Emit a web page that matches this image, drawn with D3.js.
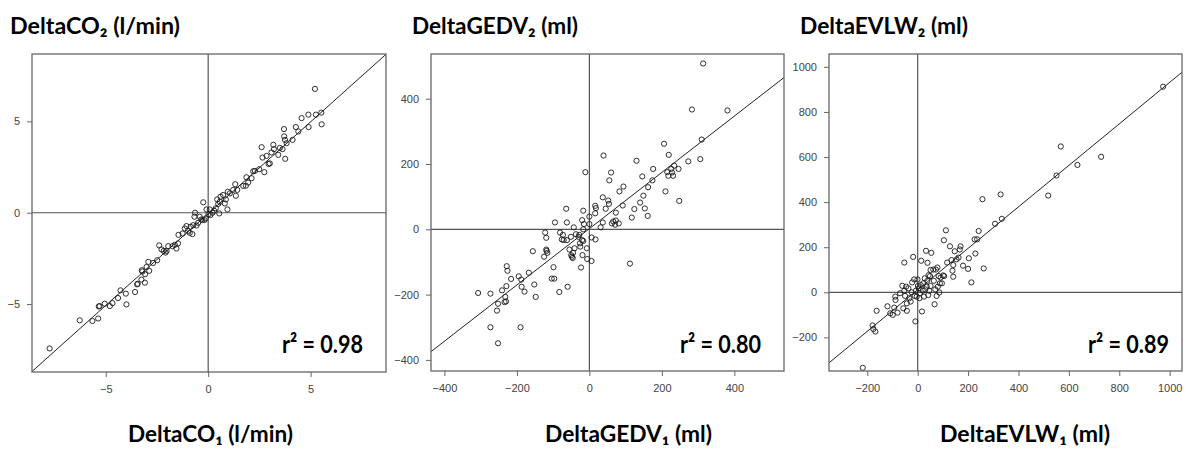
<!DOCTYPE html>
<html>
<head>
<meta charset="utf-8">
<script src="https://cdn.jsdelivr.net/npm/d3@7"></script>
<style>
  body { margin: 0; background: #fff; }
  svg { display: block; }
</style>
</head>
<body>
<div class="chart"></div>
<script>
// ---- data ----
var co2Points = [
  [-7.74,-7.43],[-6.27,-5.89],[-5.65,-5.93],[-5.37,-5.79],[-5.34,-5.13],[-5.30,-5.11],
  [-5.05,-4.98],[-4.80,-5.11],[-4.67,-4.95],[-4.40,-4.67],[-4.28,-4.25],[-4.02,-4.43],
  [-3.99,-5.02],[-3.57,-4.34],[-3.47,-3.92],[-3.44,-3.89],[-3.26,-3.66],[-3.24,-3.15],
  [-3.21,-3.22],[-3.09,-3.83],[-3.08,-3.37],[-3.01,-2.97],[-2.92,-2.69],[-2.88,-3.18],
  [-2.69,-2.75],[-2.49,-2.60],[-2.39,-1.79],[-2.28,-2.01],[-2.17,-2.09],[-2.08,-2.18],
  [-2.03,-2.09],[-1.95,-1.83],[-1.74,-1.83],[-1.63,-1.76],[-1.55,-1.96],[-1.47,-1.68],
  [-1.45,-1.21],[-1.25,-1.14],[-1.14,-0.86],[-1.06,-0.73],[-0.98,-0.99],[-0.90,-1.10],
  [-0.86,-0.77],[-0.77,-1.17],[-0.73,-0.68],[-0.67,-0.22],[-0.64,0.00],[-0.57,-0.70],
  [-0.49,-0.55],[-0.41,-0.22],[-0.34,-0.37],[-0.28,-0.40],[-0.24,0.57],[-0.18,-0.40],
  [-0.12,-0.31],[-0.08,0.18],[0.02,-0.09],[0.08,0.18],[0.11,-0.13],[0.21,0.00],
  [0.29,0.11],[0.37,0.24],[0.44,0.73],[0.49,0.48],[0.54,-0.04],[0.57,0.60],
  [0.60,0.88],[0.73,0.97],[0.81,0.51],[0.86,0.73],[0.94,0.18],[0.96,1.15],
  [1.06,1.06],[1.22,1.25],[1.32,1.56],[1.35,0.93],[1.42,1.25],[1.71,1.47],
  [1.84,1.48],[1.87,1.94],[1.95,1.65],[2.12,1.89],[2.20,2.27],[2.28,2.29],
  [2.49,2.38],[2.61,3.59],[2.65,3.02],[2.74,2.22],[2.85,3.11],[2.95,2.67],
  [3.01,2.70],[3.09,3.30],[3.18,3.72],[3.21,3.48],[3.42,3.17],[3.50,3.55],
  [3.63,3.48],[3.70,4.58],[3.71,4.18],[3.75,3.99],[3.76,2.95],[3.83,3.81],
  [4.12,3.99],[4.28,4.69],[4.40,4.45],[4.56,5.18],[4.89,5.37],[4.90,4.69],
  [5.21,6.78],[5.26,5.37],[5.52,5.48],[5.54,4.84]
];

var gedvPoints = [
  [-307,-195],[-273,-197],[-273,-300],[-255,-249],[-252,-349],[-252,-228],[-241,-187],
  [-234,-223],[-232,-207],[-229,-174],[-228,-113],[-230,-221],[-226,-127],[-216,-152],
  [-195,-144],[-190,-300],[-188,-154],[-187,-176],[-179,-191],[-167,-133],[-156,-67],
  [-152,-169],[-148,-207],[-125,-84],[-122,-10],[-119,-26],[-119,-62],[-118,-66],
  [-116,-72],[-104,-151],[-99,-116],[-97,-151],[-95,21],[-83,-192],[-81,-10],
  [-76,-31],[-73,-17],[-71,-33],[-64,63],[-62,21],[-62,-33],[-60,-176],[-55,-62],
  [-51,-23],[-50,-79],[-48,-84],[-46,-88],[-45,-72],[-43,6],[-41,-58],[-37,-15],
  [-30,-23],[-28,-17],[-26,-43],[-25,-53],[-23,-117],[-20,28],[-20,-33],[-19,-79],
  [-17,-36],[-17,57],[-17,0],[-15,16],[-11,175],[-7,-58],[-6,-91],[0,16],[0,39],
  [6,-25],[6,-97],[16,72],[16,49],[17,-31],[18,65],[31,6],[37,21],[37,98],[39,226],
  [45,63],[52,88],[54,78],[55,150],[60,174],[62,18],[66,24],[71,14],[73,51],[73,27],
  [81,18],[83,116],[92,73],[94,131],[112,-105],[117,36],[124,62],[130,210],[140,82],
  [146,162],[149,103],[153,64],[161,41],[162,129],[174,150],[176,185],[206,262],
  [210,116],[215,175],[218,164],[219,228],[226,185],[228,174],[231,164],[234,195],
  [246,185],[248,87],[273,208],[283,367],[306,215],[310,275],[314,508],[381,364]
];

var evlwPoints = [
  [-218,-335],[-179,-147],[-176,-163],[-168,-174],[-163,-82],[-120,-62],[-109,-93],
  [-99,-100],[-93,-68],[-89,-19],[-88,-34],[-80,-90],[-70,-4],[-61,29],[-57,-71],
  [-53,132],[-53,7],[-50,-16],[-46,25],[-43,-49],[-43,-82],[-37,18],[-33,-26],
  [-28,-41],[-24,0],[-22,44],[-18,157],[-14,57],[-12,-16],[-9,-129],[-7,7],[-4,-19],
  [-1,57],[1,28],[4,18],[7,-26],[9,-4],[12,32],[14,140],[17,-85],[20,7],[22,40],
  [25,-19],[28,62],[30,13],[33,184],[36,25],[38,51],[39,131],[42,-12],[43,76],[46,7],
  [49,72],[51,99],[51,28],[54,175],[62,101],[64,51],[67,-53],[70,13],[72,101],[75,-16],
  [78,110],[80,25],[83,72],[86,-1],[88,40],[91,66],[96,40],[101,75],[104,231],[105,72],
  [112,275],[117,132],[128,204],[134,143],[138,96],[141,121],[141,69],[147,182],
  [154,146],[162,154],[167,190],[170,204],[180,118],[200,104],[203,151],[213,44],
  [229,172],[226,235],[236,235],[242,272],[257,413],[262,106],[307,304],[329,434],
  [334,326],[518,429],[551,518],[568,647],[634,565],[728,601],[974,912]
];

// axis limits, ticks and fitted lines
var co2Ticks = [-5, 0, 5];
var gedvTicks = [-400, -200, 0, 200, 400];
var evlwXTicks = [-200, 0, 200, 400, 600, 800, 1000];
var evlwYTicks = [-200, 0, 200, 400, 600, 800, 1000];

var co2Domain = [-8.6, 8.68], co2YDomain = [-8.72, 8.69];
var gedvDomain = [-437, 537], gedvYDomain = [-434, 537];
var evlwDomain = [-352, 1049], evlwYDomain = [-349, 1057];

var co2Fit = [1.005, -0.05];
var gedvFit = [0.862, 2];
var evlwFit = [0.92, 11];

var topTitles = ['DeltaCO\u2082 (l/min)', 'DeltaGEDV\u2082 (ml)', 'DeltaEVLW\u2082 (ml)'];
var bottomTitles = ['DeltaCO\u2081 (l/min)', 'DeltaGEDV\u2081 (ml)', 'DeltaEVLW\u2081 (ml)'];
var r2Labels = ['r\u00b2 = 0.98', 'r\u00b2 = 0.80', 'r\u00b2 = 0.89'];

// ---- layout ----
var W = 1200, H = 463;
var svg = d3.select('.chart')
  .append('svg')
  .attr('width', W)
  .attr('height', H);

var panels = [
  { pts: co2Points, xd: co2Domain, yd: co2YDomain, xt: co2Ticks, yt: co2Ticks, fit: co2Fit,
    box: [32, 386, 54, 372], topX: 10, topW: 170, botX: 128, botW: 165, r2X: 282 },
  { pts: gedvPoints, xd: gedvDomain, yd: gedvYDomain, xt: gedvTicks, yt: gedvTicks, fit: gedvFit,
    box: [431, 784, 54, 371], topX: 412, topW: 166, botX: 545, botW: 167, r2X: 680 },
  { pts: evlwPoints, xd: evlwDomain, yd: evlwYDomain, xt: evlwXTicks, yt: evlwYTicks, fit: evlwFit,
    box: [829, 1182, 54, 371], topX: 800, topW: 168, botX: 940, botW: 170, r2X: 1088 }
];

function label(g, txt, x, y, w, size) {
  g.append('text')
    .attr('x', x)
    .attr('y', y)
    .attr('textLength', w)
    .attr('lengthAdjust', 'spacingAndGlyphs')
    .style('font-family', 'Lato, "Open Sans", sans-serif')
    .style('font-weight', 'bold')
    .style('font-size', size + 'px')
    .style('fill', '#000')
    .text(txt);
}

panels.forEach(function (p, i) {
  var b = p.box;
  var x = d3.scaleLinear().domain(p.xd).range([b[0], b[1]]);
  var y = d3.scaleLinear().domain(p.yd).range([b[3], b[2]]);
  var g = svg.append('g');

  g.append('clipPath').attr('id', 'clip' + i)
    .append('rect')
    .attr('x', b[0]).attr('y', b[2])
    .attr('width', b[1] - b[0]).attr('height', b[3] - b[2]);

  // axes
  var xa = g.append('g')
    .attr('transform', 'translate(0,' + b[3] + ')')
    .call(d3.axisBottom(x).tickValues(p.xt).tickFormat(d3.format('d')).tickSize(5).tickPadding(8));
  var ya = g.append('g')
    .attr('transform', 'translate(' + b[0] + ',0)')
    .call(d3.axisLeft(y).tickValues(p.yt).tickFormat(d3.format('d')).tickSize(5).tickPadding(7));
  [xa, ya].forEach(function (a) {
    a.select('.domain').remove();
    a.selectAll('line').attr('stroke', '#666');
    a.selectAll('text')
      .style('font-family', '"Liberation Sans", Arial, sans-serif')
      .style('font-size', '11px')
      .style('fill', '#444');
  });

  // zero lines
  g.append('line')
    .attr('x1', x(0)).attr('x2', x(0)).attr('y1', b[2]).attr('y2', b[3])
    .attr('stroke', '#555').attr('stroke-width', 1.2);
  g.append('line')
    .attr('x1', b[0]).attr('x2', b[1]).attr('y1', y(0)).attr('y2', y(0))
    .attr('stroke', '#555').attr('stroke-width', 1.2);

  // fitted line
  var line = d3.line()
    .x(d => x(d))
    .y(d => y(p.fit[0] * d + p.fit[1]));
  g.append('path')
    .attr('d', line(p.xd))
    .attr('clip-path', 'url(#clip' + i + ')')
    .style('fill', 'none')
    .style('stroke', '#222')
    .style('stroke-width', 1);

  g.selectAll('.dot')
    .data(p.pts)
    .enter()
    .append('circle')
    .attr('class', 'dot')
    .attr('cx', d => x(d[0]))
    .attr('cy', d => y(d[1]))
    .attr('r', 2.6)
    .style('fill', 'none')
    .style('stroke', '#1a1a1a')
    .style('stroke-width', 0.9);

  // box
  g.append('rect')
    .attr('x', b[0]).attr('y', b[2])
    .attr('width', b[1] - b[0]).attr('height', b[3] - b[2])
    .style('fill', 'none')
    .style('stroke', '#666')
    .style('stroke-width', 1.3);

  label(g, r2Labels[i], p.r2X, 353, 81, 24);
  label(g, topTitles[i], p.topX, 34, p.topW, 23);
  label(g, bottomTitles[i], p.botX, 442, p.botW, 23);
});
</script>
</body>
</html>
